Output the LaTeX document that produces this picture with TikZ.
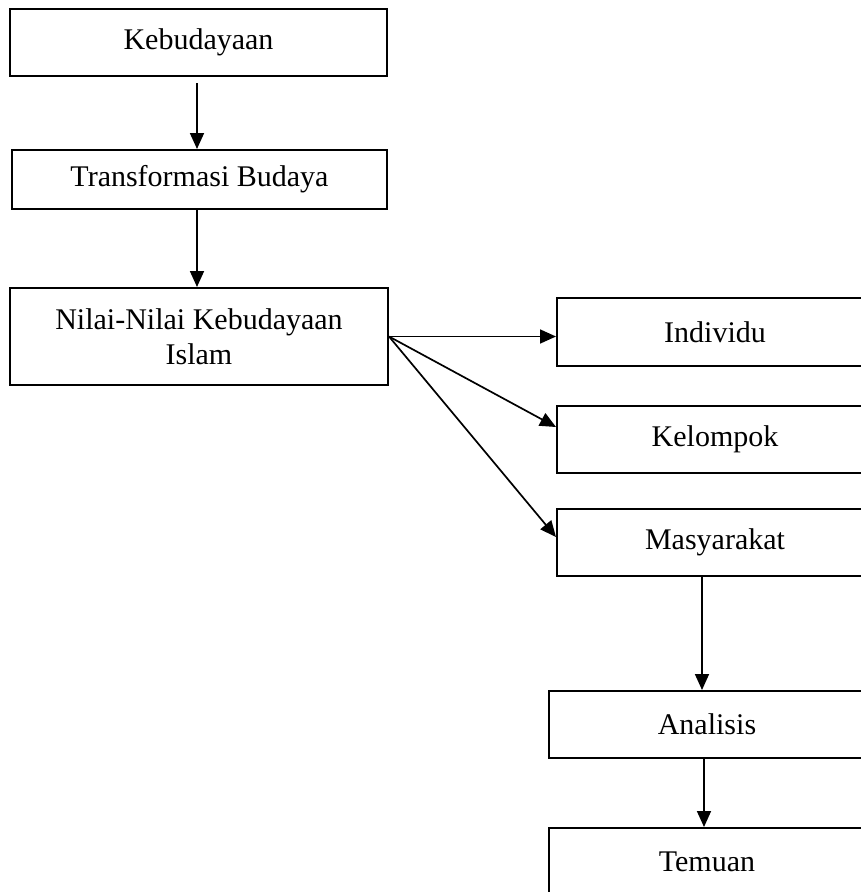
\documentclass[tikz,border=0pt]{standalone}
\usepackage{fontspec}
\setmainfont{Liberation Serif}
\usetikzlibrary{arrows.meta,calc}
\begin{document}
\begin{tikzpicture}[x=1pt,y=-1pt,
  box/.style={draw,line width=2pt,rectangle,inner sep=0pt,align=center,
    font=\fontsize{30}{35}\selectfont},
  arr/.style={-{Triangle[length=16pt,width=14pt]},line width=1.7pt}]
\clip (0,0) rectangle (861,892);
\node[box,minimum width=377pt,minimum height=67pt] (keb) at (198.5,42.5) {Kebudayaan};
\node[box,minimum width=375pt,minimum height=59pt] (trans) at (199.5,179.5) {Transformasi Budaya};
\node[box,minimum width=378pt,minimum height=97pt] (nilai) at (199,336.5) {Nilai-Nilai Kebudayaan\\Islam};
\node[box,minimum width=316pt,minimum height=68pt] (ind) at (715,332) {Individu};
\node[box,minimum width=316pt,minimum height=67pt] (kel) at (715,439.5) {Kelompok};
\node[box,minimum width=316pt,minimum height=67pt] (mas) at (715,542.5) {Masyarakat};
\node[box,minimum width=316pt,minimum height=67pt] (ana) at (707,724.5) {Analisis};
\node[box,minimum width=316pt,minimum height=68pt] (tem) at (707,862) {Temuan};
\coordinate (colx) at (197,0);
\coordinate (colr) at (702,0);
\coordinate (colt) at (704,0);
\draw[arr] ($(keb.south -| colx)+(0,6)$) -- (trans.north -| colx);
\draw[arr] (trans.south -| colx) -- (nilai.north -| colx);
\draw[arr] (nilai.east) -- (nilai.east -| ind.west);
\draw[arr] (nilai.east) -- ([yshift=12.5pt]kel.west);
\draw[arr] (nilai.east) -- ([yshift=5.5pt]mas.west);
\draw[arr] (mas.south -| colr) -- (ana.north -| colr);
\draw[arr] (ana.south -| colt) -- (tem.north -| colt);
\end{tikzpicture}
\end{document}
